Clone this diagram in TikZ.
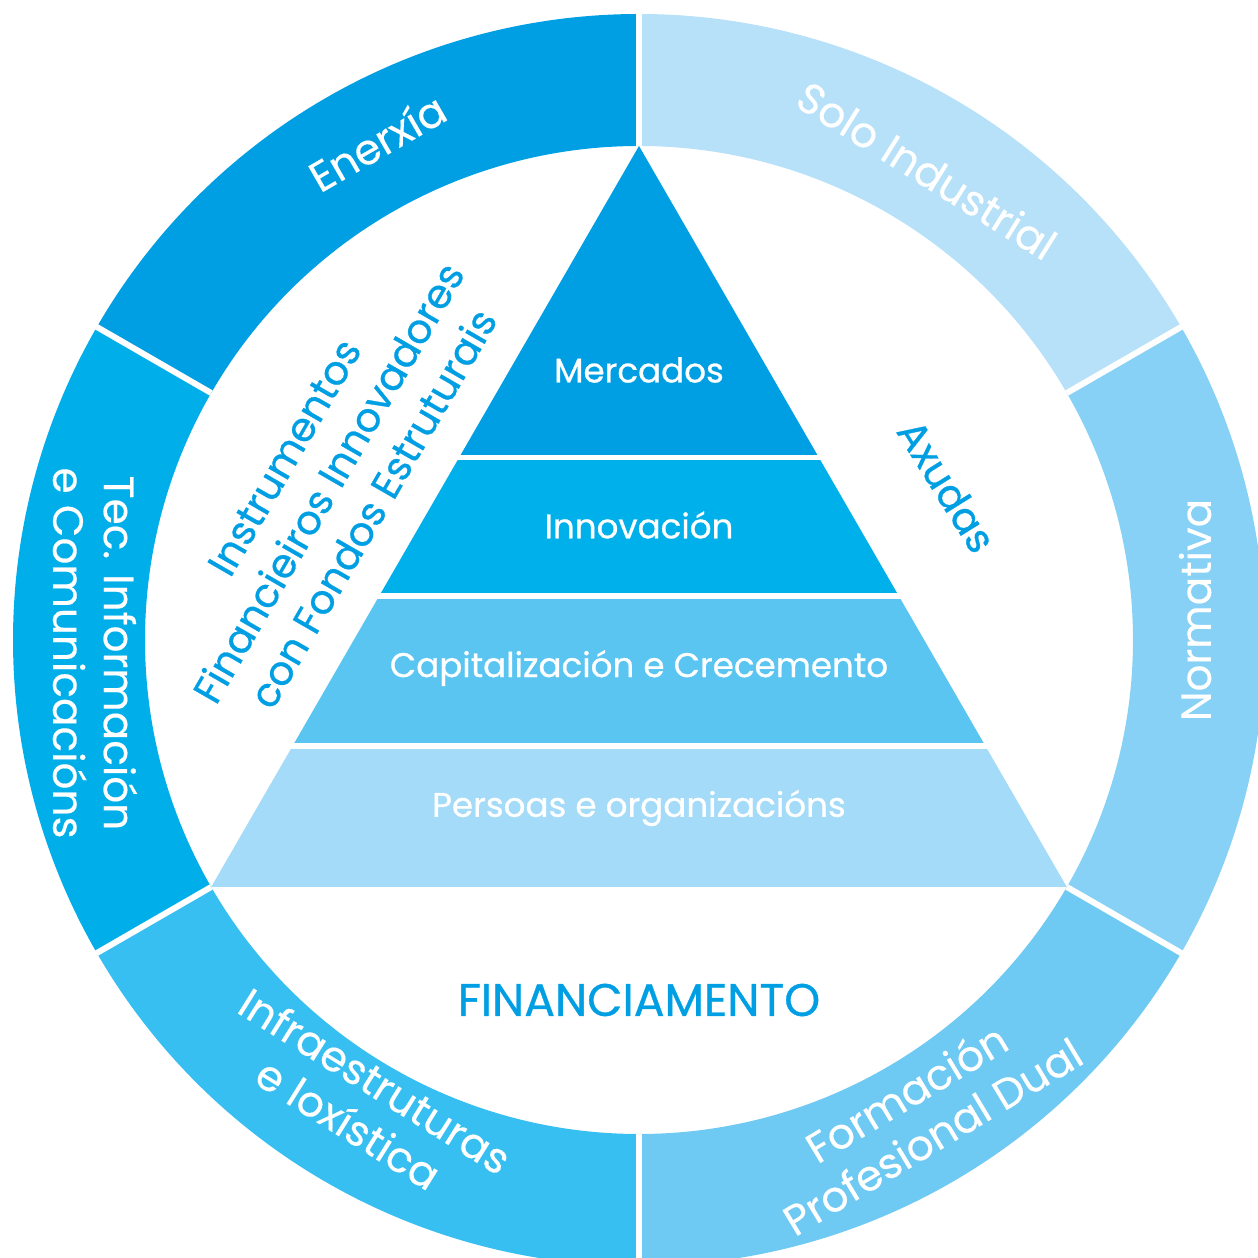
\documentclass[tikz,border=0pt]{standalone}
\usepackage{fontspec}
\setmainfont{Poppins}[FakeBold=0.3]
\newfontfamily\medfont{Poppins}[FakeBold=0.7]
\usepackage{tikz}
\definecolor{finblue}{HTML}{009FE3}
\definecolor{ringa}{HTML}{009FE3}
\definecolor{ringb}{HTML}{00AFEA}
\definecolor{ringc}{HTML}{36BFF0}
\definecolor{ringd}{HTML}{6EC9F3}
\definecolor{ringe}{HTML}{86D1F5}
\definecolor{ringf}{HTML}{B6E1F9}
\definecolor{stepa}{HTML}{009FE3}
\definecolor{stepb}{HTML}{00B0EB}
\definecolor{stepc}{HTML}{5BC5F1}
\definecolor{stepd}{HTML}{A4DBF8}
\tikzstyle{ringlabel}=[text=white,font=\fontsize{12}{14.4}\selectfont,align=center]
\tikzstyle{steplabel}=[text=white,font=\medfont\fontsize{9.7}{12}\selectfont]
\tikzstyle{bluelabel}=[text=finblue,font=\medfont\fontsize{11.4}{14.6}\selectfont,align=center]
\tikzstyle{gap}=[white,line width=1.7pt]
\usetikzlibrary{positioning}

\begin{document}
\begin{tikzpicture}[x=0.01cm,y=0.01cm]
			\useasboundingbox (-639,-618) rectangle (619,640);
			\clip (-639,-618) rectangle (619,640);

			% ring part
			\fill[ringa] (90:626) arc[start angle=90,end angle=150,radius=626] -- (150:494) arc[start angle=150,end angle=90,radius=494] -- cycle;
			\fill[ringb] (150:626) arc[start angle=150,end angle=210,radius=626] -- (210:494) arc[start angle=210,end angle=150,radius=494] -- cycle;
			\fill[ringc] (210:626) arc[start angle=210,end angle=270,radius=626] -- (270:494) arc[start angle=270,end angle=210,radius=494] -- cycle;
			\fill[ringd] (270:626) arc[start angle=270,end angle=330,radius=626] -- (330:494) arc[start angle=330,end angle=270,radius=494] -- cycle;
			\fill[ringe] (-30:626) arc[start angle=-30,end angle=30,radius=626] -- (30:494) arc[start angle=30,end angle=-30,radius=494] -- cycle;
			\fill[ringf] (30:626) arc[start angle=30,end angle=90,radius=626] -- (90:494) arc[start angle=90,end angle=30,radius=494] -- cycle;

			\draw[gap] (90:494) -- (90:640);
			\draw[gap] (150:494) -- (150:640);
			\draw[gap] (210:494) -- (210:640);
			\draw[gap] (270:494) -- (270:640);
			\draw[gap] (330:494) -- (330:640);
			\draw[gap] (30:494) -- (30:640);

			\node[ringlabel,rotate=30] (enerxia) at (-262,498) {Enerxía};
			\node[ringlabel,rotate=-32] (solo) at (288,470) {Solo Industrial};
			\node[ringlabel,rotate=90] (normativa) at (556,30) {Normativa};
			\node[ringlabel,rotate=31] (formacion) at (280,-474) {Formación\\Profesional Dual};
			\node[ringlabel,rotate=-32] (infra) at (-277,-462) {Infraestruturas\\e loxística};
			\node[ringlabel,rotate=-90] (tic) at (-544,-13) {Tec. Información\\e Comunicacións};

			% pyramid part
			\begin{scope}
				\clip (90:494) -- (210:494) -- (330:494) -- cycle;
				\fill[stepa] (-500,185) rectangle (500,500);
				\fill[stepb] (-500,47) rectangle (500,180);
				\fill[stepc] (-500,-103) rectangle (500,41);
				\fill[stepd] (-500,-247) rectangle (500,-109);
			\end{scope}

			\node[steplabel] (mercados) at (0,270) {Mercados};
			\node[steplabel] (innovacion) at (0,115) {Innovación};
			\node[steplabel] (capital) at (0,-28) {Capitalización e Crecemento};
			\node[steplabel] (persoas) at (0,-168) {Persoas e organizacións};

			% funding part
			\node[bluelabel,rotate=60] (instrumentos) at (-310,157) {Instrumentos\\Financieiros Innovadores\\con Fondos Estruturais};
			\node[bluelabel,rotate=-58] (axudas) at (308,154) {Axudas};
			\node[bluelabel,font=\medfont\fontsize{13}{15}\selectfont] (financiamento) at (0,-360) {FINANCIAMENTO};
		\end{tikzpicture}
\end{document}
